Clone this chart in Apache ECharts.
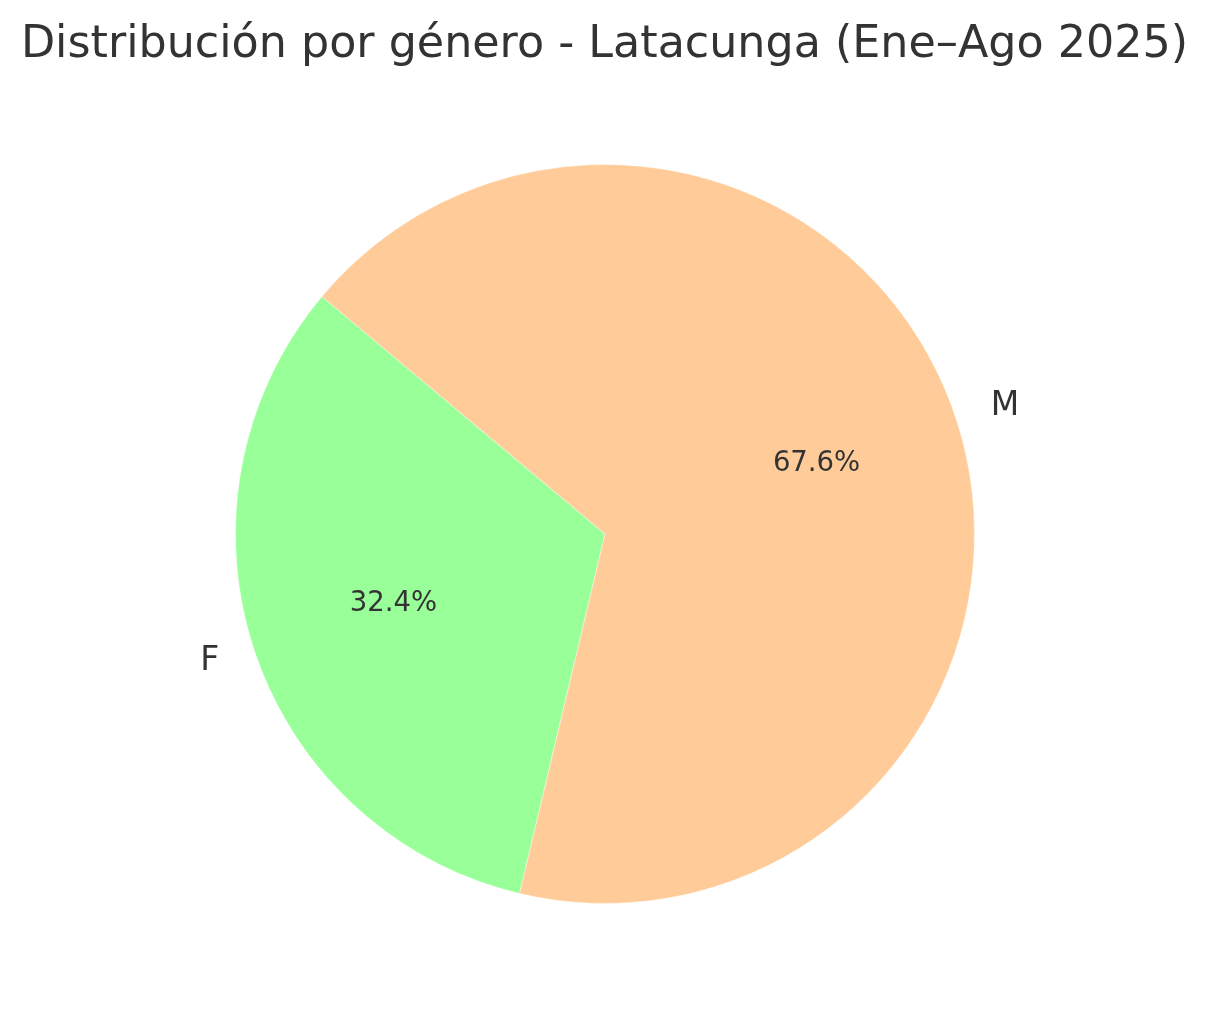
<!DOCTYPE html>
<html>
<head>
<meta charset="utf-8">
<script src="https://cdn.jsdelivr.net/npm/echarts@6/dist/echarts.min.js"></script>
<style>
html, body { margin: 0; padding: 0; background: #ffffff; }
#chart { width: 1209px; height: 1016px; }
</style>
</head>
<body>
<div id="chart"></div>
<script>
const titleText = 'Distribución por género - Latacunga (Ene–Ago 2025)';
const categories = ['F', 'M'];
const values = [32.4, 67.6];
const colors = ['#99ff99', '#ffcc99'];

const R = 369.5;
const CENTER = [605, 534];
const FONT = '"DejaVu Sans", sans-serif';

const pieData = categories.map((c, i) => ({ name: c, value: values[i], itemStyle: { color: colors[i] } }));
const labelData = categories.map((c, i) => ({ name: c, value: values[i] }));

const chart = echarts.init(document.getElementById('chart'), null, { renderer: 'canvas' });
chart.setOption({
  backgroundColor: '#ffffff',
  animation: false,
  title: {
    text: titleText,
    left: 'center',
    top: 18,
    textStyle: { fontFamily: FONT, fontSize: 44.4, fontWeight: 'normal', color: '#333333' }
  },
  series: [
    {
      type: 'pie',
      center: CENTER,
      radius: [0, R],
      startAngle: 140,
      clockwise: false,
      avoidLabelOverlap: false,
      silent: true,
      itemStyle: { borderColor: '#ffffff', borderWidth: 0.4 },
      label: {
        show: true,
        position: 'outside',
        formatter: '{b}',
        fontFamily: FONT,
        fontSize: 33,
        color: '#333333',
        distanceToLabelLine: 0
      },
      labelLine: { show: false, length: R * 0.1, length2: 0 },
      emphasis: { disabled: true },
      data: pieData
    },
    {
      type: 'pie',
      center: CENTER,
      radius: [R * 0.19, R],
      startAngle: 140,
      clockwise: false,
      silent: true,
      percentPrecision: 1,
      itemStyle: { color: 'rgba(0,0,0,0)' },
      label: {
        show: true,
        position: 'inside',
        formatter: '{d}%',
        fontFamily: FONT,
        fontSize: 27.5,
        color: '#333333'
      },
      labelLine: { show: false },
      emphasis: { disabled: true },
      data: labelData
    }
  ]
});
</script>
</body>
</html>
